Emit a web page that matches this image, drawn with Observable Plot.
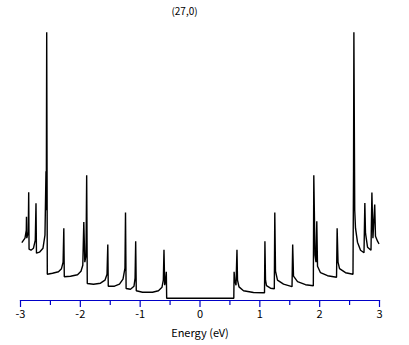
<!DOCTYPE html>
<html>
<head>
<meta charset="utf-8">
<script src="https://cdn.jsdelivr.net/npm/d3@7"></script>
<script src="https://cdn.jsdelivr.net/npm/@observablehq/plot@0.6"></script>
<style>
  html, body { margin: 0; padding: 0; background: #fff; }
</style>
</head>
<body>
<div id="chart"></div>
<script>
const title = "(27,0)";
const xLabel = "Energy (eV)";
const majorTicks = [-3, -2, -1, 0, 1, 2, 3];
const minorTicks = [-2.5, -1.5, -0.5, 0.5, 1.5, 2.5];

// Density of states (energy in eV, DOS arbitrary units)
const energy = [
  -2.972, -2.925, -2.903, -2.900, -2.895, -2.870, -2.863, -2.857, -2.825, -2.783,
  -2.753, -2.741, -2.733, -2.683, -2.624, -2.591, -2.574, -2.569, -2.562, -2.552,
  -2.465, -2.365, -2.315, -2.288, -2.276, -2.268, -2.164, -2.047, -1.989, -1.959,
  -1.942, -1.925, -1.905, -1.894, -1.884, -1.780, -1.663, -1.588, -1.554, -1.541,
  -1.533, -1.429, -1.346, -1.287, -1.254, -1.245, -1.235, -1.162, -1.103, -1.085,
  -1.075, -1.065, -0.961, -0.794, -0.694, -0.635, -0.613, -0.602, -0.590, -0.574,
  -0.563, -0.557,
  0.565, 0.570, 0.580, 0.602, 0.618, 0.627, 0.652, 0.727, 0.894, 1.053,
  1.078, 1.085, 1.095, 1.111, 1.178, 1.242, 1.250, 1.262, 1.295, 1.396,
  1.538, 1.549, 1.563, 1.630, 1.763, 1.894, 1.902, 1.922, 1.939, 1.952,
  1.964, 2.014, 2.131, 2.282, 2.292, 2.307, 2.332, 2.432, 2.557, 2.566,
  2.572, 2.586, 2.599, 2.632, 2.683, 2.741, 2.755, 2.766, 2.800, 2.858,
  2.873, 2.890, 2.920, 2.933, 2.967, 2.988
];
const dos = [
  0.56, 0.60, 0.68, 0.815, 0.60, 0.66, 1.06, 0.49, 0.48, 0.50,
  0.58, 0.95, 0.45, 0.46, 0.50, 0.63, 1.27, 0.88, 2.66, 0.24,
  0.25, 0.265, 0.295, 0.36, 0.70, 0.215, 0.22, 0.235, 0.27, 0.33,
  0.763, 0.36, 0.43, 1.23, 0.147, 0.14, 0.15, 0.18, 0.24, 0.537,
  0.12, 0.12, 0.14, 0.19, 0.30, 0.857, 0.097, 0.09, 0.12, 0.20,
  0.57, 0.075, 0.06, 0.06, 0.075, 0.11, 0.18, 0.485, 0.13, 0.18,
  0.265, 0.0,
  0.0, 0.265, 0.18, 0.13, 0.485, 0.18, 0.113, 0.075, 0.057, 0.055,
  0.053, 0.57, 0.18, 0.125, 0.10, 0.095, 0.857, 0.27, 0.18, 0.14,
  0.115, 0.537, 0.22, 0.165, 0.135, 0.125, 1.23, 0.43, 0.36, 0.77,
  0.32, 0.255, 0.225, 0.21, 0.70, 0.36, 0.295, 0.255, 0.24, 1.27,
  2.66, 0.88, 0.70, 0.56, 0.48, 0.455, 0.953, 0.65, 0.51, 0.48,
  1.057, 0.60, 0.937, 0.62, 0.57, 0.547
];

const data = energy.map((e, i) => ({e, d: dos[i]}));
const axisColor = "#0000c8";
const font = "'Noto Sans CJK JP', 'DejaVu Sans', sans-serif";

const chart = Plot.plot({
  width: 409,
  height: 345,
  marginLeft: 20,
  marginRight: 30,
  marginTop: 0,
  marginBottom: 45,
  style: {fontFamily: font, fontSize: "11px", background: "#fff", color: "#000"},
  x: {domain: [-3, 3]},
  y: {domain: [0, 2.657], range: [297.7, 32], axis: null},
  marks: [
    Plot.frame({anchor: "bottom", stroke: axisColor, strokeWidth: 1.2}),
    Plot.axisX(majorTicks, {anchor: "bottom", tickSize: 7, tickPadding: 3, stroke: axisColor, strokeWidth: 1.2, fill: "#000", tickFormat: d => String(d), label: null, fontSize: 11}),
    Plot.axisX(minorTicks, {anchor: "bottom", tickSize: 5, stroke: axisColor, strokeWidth: 1.2, tickFormat: null, text: null, label: null}),
    Plot.line(data, {x: "e", y: "d", stroke: "#000", strokeWidth: 1.4, strokeLinejoin: "miter", curve: "linear"}),
    Plot.text([title], {frameAnchor: "top", dx: -15.5, dy: 7, fontSize: 10, fill: "#000"}),
    Plot.text([xLabel], {frameAnchor: "bottom", dy: 36, fontSize: 11, fill: "#000"})
  ]
});
document.getElementById("chart").appendChild(chart);
</script>
</body>
</html>
